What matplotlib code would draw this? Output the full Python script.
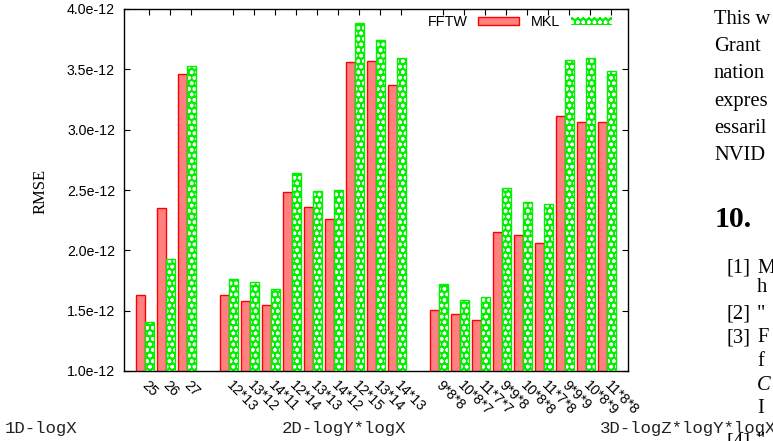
import matplotlib
matplotlib.use("Agg")
import matplotlib.pyplot as plt
from matplotlib.patches import Patch
from matplotlib.ticker import FormatStrFormatter

# RMSE per transform size (units of 1e-12)
labels_1d = ["25", "26", "27"]
fftw_1d = [1.63, 2.35, 3.46]
mkl_1d = [1.41, 1.93, 3.53]

labels_2d = ["12*13", "13*12", "14*11", "12*14", "13*13", "14*12", "12*15", "13*14", "14*13"]
fftw_2d = [1.63, 1.58, 1.55, 2.48, 2.36, 2.26, 3.56, 3.57, 3.37]
mkl_2d = [1.76, 1.735, 1.68, 2.64, 2.49, 2.50, 3.88, 3.74, 3.59]

labels_3d = ["9*8*8", "10*8*7", "11*7*7", "9*9*8", "10*8*8", "11*7*8", "9*9*9", "10*8*9", "11*8*8"]
fftw_3d = [1.505, 1.47, 1.42, 2.15, 2.13, 2.06, 3.11, 3.06, 3.06]
mkl_3d = [1.72, 1.59, 1.61, 2.52, 2.40, 2.38, 3.58, 3.59, 3.49]

group_titles = ["1D-logX", "2D-logY*logX", "3D-logZ*logY*logX"]

plt.rcParams['font.family'] = ['Liberation Sans', 'DejaVu Sans']
plt.rcParams['hatch.linewidth'] = 1.0

W, H = 773, 441
fig = plt.figure(figsize=(W / 100, H / 100), dpi=100)
ax = fig.add_axes([124 / W, 1 - 371 / H, (628 - 124) / W, (371 - 9) / H])

# one empty slot between the histogram groups
pos, names, fftw, mkl = [], [], [], []
start = 0
for lab, f, m in [(labels_1d, fftw_1d, mkl_1d), (labels_2d, fftw_2d, mkl_2d), (labels_3d, fftw_3d, mkl_3d)]:
    pos += [start + i for i in range(len(lab))]
    names += lab
    fftw += f
    mkl += m
    start += len(lab) + 1

scale = 1e-12
bw = 0.43
red_face = '#ff8080'
green = '#00f000'
x_red = [p - bw / 2 for p in pos]
x_grn = [p + bw / 2 for p in pos]
f_vals = [v * scale for v in fftw]
m_vals = [v * scale for v in mkl]

ax.bar(x_red, f_vals, width=bw, facecolor=red_face, edgecolor='red', linewidth=1.0, zorder=2)
ax.bar(x_grn, m_vals, width=bw, facecolor=green, edgecolor='white', hatch='ooo', linewidth=0, zorder=2)
ax.bar(x_grn, m_vals, width=bw, fill=False, edgecolor=green, linewidth=1.0, zorder=3)

ax.set_xlim(-1.0, 23.0)
ax.set_ylim(1.0e-12, 4.0e-12)
ax.set_yticks([v * scale for v in [1.0, 1.5, 2.0, 2.5, 3.0, 3.5, 4.0]])
ax.yaxis.set_major_formatter(FormatStrFormatter('%.1e'))

tick_pos = [p + 0.2 for p in pos]
ax.set_xticks(tick_pos)
ax.set_xticklabels(names)
ax.tick_params(axis='x', bottom=False, top=True, direction='in', length=4.3, width=0.8, pad=5, labelsize=10.2)
ax.tick_params(axis='y', left=True, right=True, direction='in', length=4.3, width=0.8, pad=6.5, labelsize=10.2)
plt.setp(ax.get_xticklabels(), rotation=-45, ha='left', va='top', rotation_mode='anchor')
for s in ax.spines.values():
    s.set_linewidth(1.0)

fig.text(41 / W, 1 - 191 / H, 'RMSE', rotation=90, ha='center', va='center',
         family='Liberation Serif', fontsize=12)

handles = [Patch(facecolor=red_face, edgecolor='red', linewidth=1.0),
           Patch(facecolor=green, edgecolor='white', hatch='ooo', linewidth=0)]
ax.legend(handles, ['FFTW', 'MKL'], ncol=2, markerfirst=False, frameon=False,
          loc='center right', bbox_to_anchor=(612 / W, 1 - 22 / H), bbox_transform=fig.transFigure,
          borderpad=0, borderaxespad=0, handlelength=2.86, handleheight=0.5,
          handletextpad=0.7, columnspacing=0.86, fontsize=10.4)

# group titles under each histogram
for title, xpix in zip(group_titles, [5, 282, 600]):
    fig.text(xpix / W, 1 - 428 / H, title, family='Liberation Mono', fontsize=12.5,
             ha='left', va='center', color='#222222')

# neighbouring page text
body = ["This w", "Grant", "nation", "expres", "essaril", "NVID"]
for k, line in enumerate(body):
    fig.text(714 / W, 1 - (24 + 27.2 * k) / H, line, family='Liberation Serif', fontsize=14.8,
             ha='left', va='baseline')
fig.text(715 / W, 1 - 227 / H, "10.", family='Liberation Serif', fontsize=21.5,
         weight='bold', ha='left', va='baseline')

refs = [("[1]", "M", 273), (None, "h", 292), ("[2]", "\"", 319), ("[3]", "F", 342),
        (None, "f", 366), (None, "C", 390), (None, "I", 413), ("[4]", "\"", 446)]
for num, word, ypix in refs:
    if num:
        fig.text(727 / W, 1 - ypix / H, num, family='Liberation Serif', fontsize=14.8,
                 ha='left', va='baseline')
    fig.text(757 / W, 1 - ypix / H, word, family='Liberation Serif', fontsize=14.8,
             ha='left', va='baseline', style='italic' if word == "C" else 'normal')

fig.savefig('out.png', dpi=100)
